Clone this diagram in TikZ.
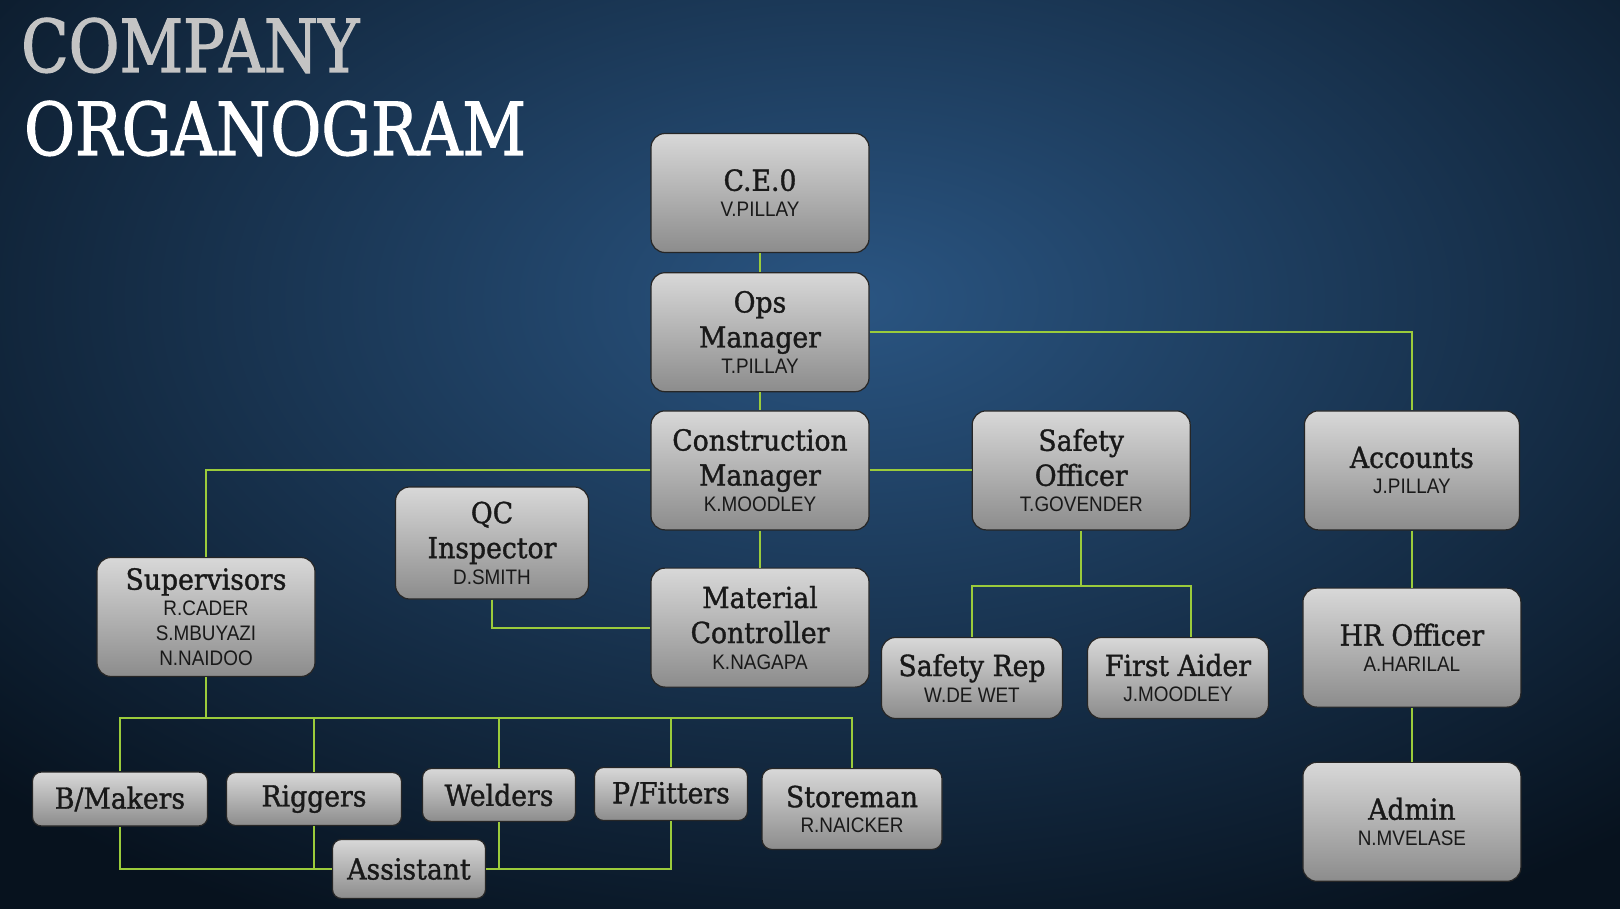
\documentclass[tikz,border=0pt]{standalone}
\usepackage{fontspec}
\usetikzlibrary{positioning}
\newfontfamily\slabfont[FakeStretch=0.92, FakeBold=1.2]{DejaVu Serif}
\newfontfamily\titlefont[FakeStretch=0.85, FakeBold=1.6]{DejaVu Serif}
\newfontfamily\namefont[FakeStretch=0.9]{Liberation Sans}
\newcommand{\nm}[1]{{\namefont\fontsize{21}{25}\selectfont #1}}
\definecolor{bgin}{HTML}{2A5582}
\definecolor{bgout}{HTML}{07121E}
\definecolor{boxtop}{HTML}{D8D8D8}
\definecolor{boxbot}{HTML}{8C8C8C}
\definecolor{linkgreen}{HTML}{9BCB3B}
\definecolor{titlegray}{HTML}{C4C4C4}

\begin{document}
\begin{tikzpicture}[
    x=1pt, y=1pt,
    orgbox/.style={draw=black!85, line width=1.2pt, rounded corners=14pt, top color=boxtop, bottom color=boxbot, align=center, inner sep=2pt, text=black!90, font=\slabfont\fontsize{29}{35}\selectfont},
    bigbox/.style={orgbox, minimum width=218pt, minimum height=119pt},
    smallbox/.style={orgbox, rounded corners=9pt, minimum height=53pt},
    link/.style={draw=linkgreen, line width=2pt},
    title/.style={anchor=base west, inner sep=0pt, font=\titlefont\fontsize{73}{80}\selectfont}
]

    % Background
    \useasboundingbox (0,0) rectangle (1620,-909);
    \begin{scope}
        \clip (0,0) rectangle (1620,-909);
        \fill[inner color=bgin, outer color=bgout] (-350,400) rectangle (2050,-1000);
    \end{scope}

    % Title
    \node[title, text=titlegray] (ttop) at (21,-72) {COMPANY};
    \node[title, text=white] (tbot) at (24,-155) {ORGANOGRAM};

    % Components
    \node[bigbox] (ceo) at (760,-193) 			{C.E.0\\[-9pt]\nm{V.PILLAY}};
    \node[bigbox, below=19pt of ceo] (ops) 		{Ops\\Manager\\[-9pt]\nm{T.PILLAY}};
    \node[bigbox, below=18pt of ops] (cm) 		{Construction\\Manager\\[-9pt]\nm{K.MOODLEY}};
    \node[bigbox, below=37pt of cm] (mc) 		{Material\\Controller\\[-9pt]\nm{K.NAGAPA}};
    \node[bigbox, right=102pt of cm] (so) 		{Safety\\Officer\\[-9pt]\nm{T.GOVENDER}};
    \node[bigbox, minimum width=215pt, right=113pt of so] (acc) 	{Accounts\\[-9pt]\nm{J.PILLAY}};
    \node[bigbox, below=57pt of acc] (hr) 		{HR Officer\\[-9pt]\nm{A.HARILAL}};
    \node[bigbox, below=54pt of hr] (adm) 		{Admin\\[-9pt]\nm{N.MVELASE}};
    \node[bigbox, minimum width=193pt, minimum height=112pt] (qc) at (492,-543) 	{QC\\Inspector\\[-9pt]\nm{D.SMITH}};
    \node[bigbox] (sup) at (206,-617) 			{Supervisors\\[-9pt]\nm{R.CADER}\\[-10pt]\nm{S.MBUYAZI}\\[-10pt]\nm{N.NAIDOO}};
    \node[orgbox, minimum width=181pt, minimum height=81pt] (srep) at (972,-678) 	{Safety Rep\\[-9pt]\nm{W.DE WET}};
    \node[orgbox, minimum width=181pt, minimum height=81pt] (faid) at (1178,-678) 	{First Aider\\[-9pt]\nm{J.MOODLEY}};
    \node[smallbox, minimum width=175pt, minimum height=54pt] (bmk) at (120,-799) 	{B/Makers};
    \node[smallbox, minimum width=175pt] (rig) at (314,-799) 	{Riggers};
    \node[smallbox, minimum width=153pt] (wld) at (499,-795) 	{Welders};
    \node[smallbox, minimum width=153pt] (pft) at (671,-794) 	{P/Fitters};
    \node[orgbox, rounded corners=10pt, minimum width=180pt, minimum height=81pt] (stm) at (852,-809) 	{Storeman\\[-10pt]\nm{R.NAICKER}};
    \node[smallbox, minimum width=153pt, minimum height=59pt] (ast) at (409,-869) 	{Assistant};

    % Connections
    \draw[link] (ceo) -- (ops);
    \draw[link] (ops) -- (cm);
    \draw[link] (cm) -- (mc);
    \draw[link] (ops.east) -| (acc.north);
    \draw[link] (cm.west) -| (sup.north);
    \draw[link] (cm.east) -- (so.west);
    \draw[link] (qc.south) |- (mc.west);
    \draw[link] (acc) -- (hr);
    \draw[link] (hr) -- (adm);

    % Safety branch
    \coordinate[below=55pt of so.south] (sojoin);
    \draw[link] (so.south) -- (sojoin);
    \draw[link] (srep.north) |- (sojoin) -| ([xshift=13pt]faid.north);

    % Workshop branch
    \coordinate[below=41pt of sup.south] (supjoin);
    \draw[link] (sup.south) -- (supjoin);
    \draw[link] (bmk.north) |- (supjoin) -| (stm.north);
    \draw[link] (rig.north) -- (rig.north |- supjoin);
    \draw[link] (wld.north) -- (wld.north |- supjoin);
    \draw[link] (pft.north) -- (pft.north |- supjoin);
    \draw[link] (bmk.south) |- (ast.west);
    \draw[link] (rig.south) -- (rig.south |- ast.west);
    \draw[link] (ast.east) -| (pft.south);
    \draw[link] (wld.south) -- (wld.south |- ast.east);

\end{tikzpicture}
\end{document}
